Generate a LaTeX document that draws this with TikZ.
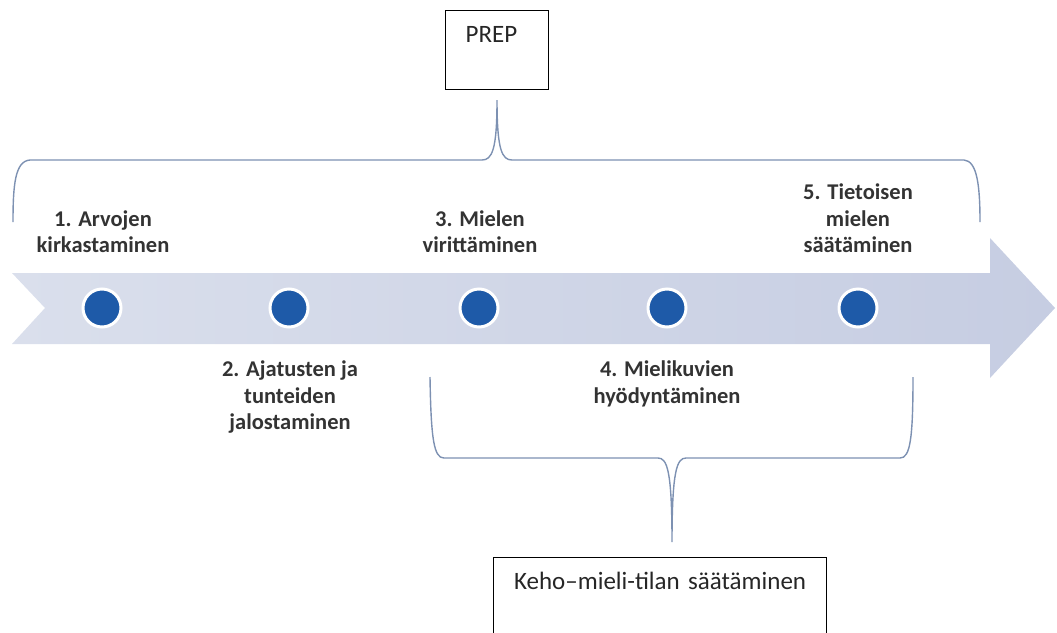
\documentclass[tikz,border=0pt]{standalone}
\usepackage{fontspec}
\setmainfont{Carlito}
\definecolor{bandL}{HTML}{DADFEC}
\definecolor{bandR}{HTML}{C6CDE2}
\definecolor{dotblue}{HTML}{1E5AA8}
\definecolor{bracecol}{HTML}{7D91B2}
\definecolor{labelcol}{HTML}{333333}
\tikzset{
  dotnode/.style={circle, fill=dotblue, draw=white, line width=3pt, minimum size=38pt, inner sep=0pt},
  steplabel/.style={align=center, font=\fontsize{22.5}{26.5}\selectfont\bfseries, text=labelcol, inner sep=0pt},
  bracepath/.style={draw=bracecol, line width=1.4pt},
  topbox/.style={draw=black, line width=1.2pt, inner ysep=0pt, font=\fontsize{25}{29}\selectfont, text=black!85}
}
\begin{document}
\begin{tikzpicture}[x=1pt,y=-1pt]
\useasboundingbox (0,0) rectangle (1057,632);
% arrow band
\shade[left color=bandL, right color=bandR]
  (12,273) -- (990,273) -- (990,238) -- (1055,308) -- (990,378) -- (990,344) -- (12,344) -- (45,308) -- cycle;
% dots
\node[dotnode] (d1) at (102,308) {};
\node[dotnode] (d2) at (289,308) {};
\node[dotnode] (d3) at (479,308) {};
\node[dotnode] (d4) at (667,308) {};
\node[dotnode] (d5) at (858,308) {};
% labels
\node[steplabel, anchor=south] (l1) at (103,253) {1. Arvojen\\kirkastaminen};
\node[steplabel, anchor=north] (l2) at (290,361) {2. Ajatusten ja\\tunteiden\\jalostaminen};
\node[steplabel, anchor=south] (l3) at (480,253) {3. Mielen\\virittäminen};
\node[steplabel, anchor=north] (l4) at (667,361) {4. Mielikuvien\\hyödyntäminen};
\node[steplabel, anchor=south] (l5) at (858,253) {5. Tietoisen\\mielen\\säätäminen};
% top brace
\draw[bracepath] (13,222) .. controls (13,185) and (15,161) .. (30,160) -- (482,160)
  .. controls (492,160) and (497,150) .. (497,100)
  .. controls (497,150) and (502,160) .. (512,160) -- (964,160)
  .. controls (977,161) and (980,185) .. (980,222);
% bottom brace
\draw[bracepath] (430,377) .. controls (431,440) and (434,458) .. (444,458) -- (658,458)
  .. controls (667,458) and (672,470) .. (672,542)
  .. controls (672,470) and (677,458) .. (686,458) -- (900,458)
  .. controls (910,458) and (913,440) .. (913,377);
% boxes
\node[topbox, anchor=north west, minimum width=103pt, text width=63pt, inner xsep=20pt, align=left,
  text height=32pt, text depth=47pt] (prep) at (445,10) {PREP};
\node[topbox, anchor=north west, minimum width=333pt, text width=313pt, inner xsep=10pt, align=center,
  text height=32pt, text depth=60pt] (body) at (493,557) {Keho–mieli-tilan säätäminen};
\end{tikzpicture}
\end{document}
